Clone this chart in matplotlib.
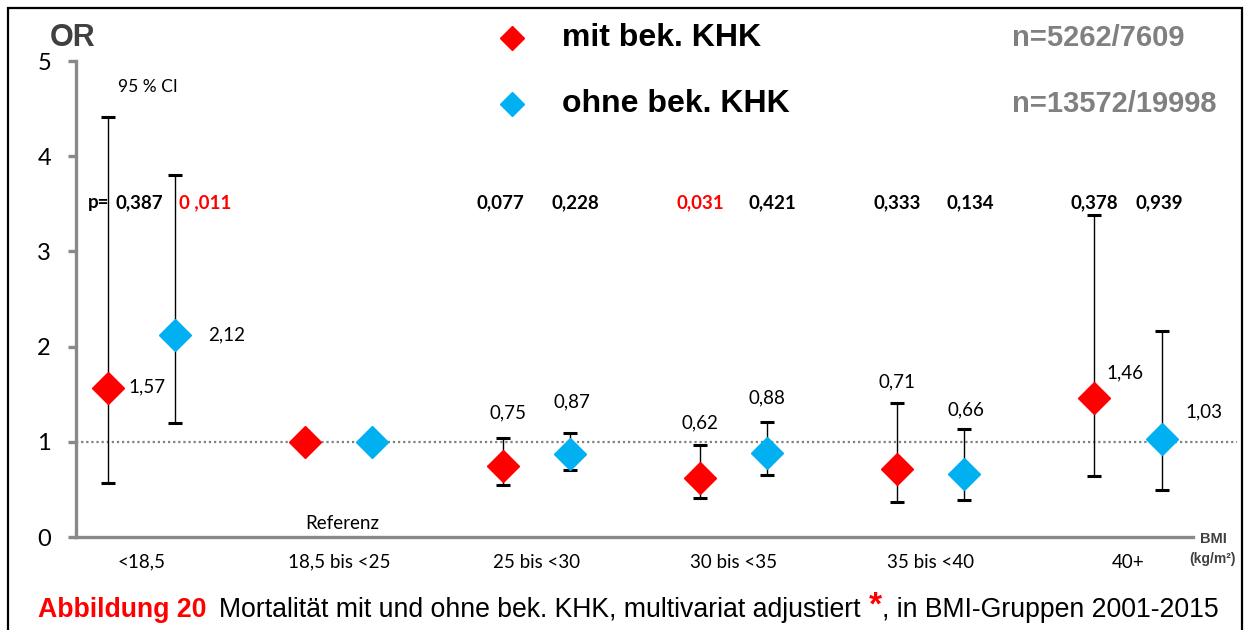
import matplotlib
matplotlib.use("Agg")
import matplotlib.pyplot as plt
from matplotlib.patches import Rectangle
import numpy as np

# BMI groups
groups = ["<18,5", "18,5 bis <25", "25 bis <30", "30 bis <35", "35 bis <40", "40+"]

# odds ratios + 95% CI, mit bekannter KHK
or_mit = [1.57, 1.00, 0.75, 0.62, 0.71, 1.46]
lo_mit = [0.57, np.nan, 0.55, 0.41, 0.37, 0.64]
hi_mit = [4.41, np.nan, 1.04, 0.97, 1.41, 3.38]

# ohne bekannte KHK
or_ohne = [2.12, 1.00, 0.87, 0.88, 0.66, 1.03]
lo_ohne = [1.20, np.nan, 0.70, 0.65, 0.39, 0.49]
hi_ohne = [3.80, np.nan, 1.09, 1.21, 1.13, 2.16]

# p-Werte (rot = signifikant)
p_mit = ["0,387", "", "0,077", "0,031", "0,333", "0,378"]
p_ohne = ["0 ,011", "", "0,228", "0,421", "0,134", "0,939"]
p_sig_mit = [False, False, False, True, False, False]
p_sig_ohne = [True, False, False, False, False, False]

n_mit = "n=5262/7609"
n_ohne = "n=13572/19998"

RED = "#FF0000"
BLUE = "#00B0F0"
GREY = "#898989"
CAL = "Lato"
ARIAL = "Liberation Sans"

W, H = 1248, 630
fig = plt.figure(figsize=(W / 100, H / 100), dpi=100)

def px(x, y):
    # pixel -> figure fraction
    return x / W, 1 - y / H

# axes: y=0 at pixel 537, y=5 at 61; left at 76, right end 1237
ax = fig.add_axes([76 / W, 1 - 537 / H, (1237 - 76) / W, (537 - 61) / H])
x0, step = 141.5, 197.3
ax.set_xlim((76 - x0) / step, (1237 - x0) / step)
ax.set_ylim(0, 5)

xs = np.arange(len(groups))
off = 0.17
x_mit = xs - off
x_ohne = xs + off

# reference line at OR=1
ax.axhline(1, color="#808080", lw=1.6, ls=(0, (1, 1.3)), zorder=1)

def ci(xp, val, lo, hi):
    val = np.array(val); lo = np.array(lo); hi = np.array(hi)
    ok = ~np.isnan(lo)
    ax.errorbar(np.asarray(xp)[ok], val[ok], yerr=[val[ok] - lo[ok], hi[ok] - val[ok]],
                fmt="none", ecolor="black", elinewidth=1.0, capsize=5, capthick=2.2, zorder=2)

ci(x_mit, or_mit, lo_mit, hi_mit)
ci(x_ohne, or_ohne, lo_ohne, hi_ohne)
ax.plot(x_mit, or_mit, ls="none", marker="D", ms=16, color=RED, mec=RED, zorder=3)
ax.plot(x_ohne, or_ohne, ls="none", marker="D", ms=16, color=BLUE, mec=BLUE, zorder=3)

# value labels (positions picked by hand)
lab_mit = [(-0.068, 1.58, "left"), None, (1.86, 1.30, "center"), (2.83, 1.20, "center"),
           (3.83, 1.63, "center"), (4.89, 1.72, "left")]
lab_ohne = [(0.34, 2.12, "left"), None, (2.18, 1.42, "center"), (3.17, 1.46, "center"),
            (4.18, 1.34, "center"), (5.29, 1.31, "left")]
for labs, vals in ((lab_mit, or_mit), (lab_ohne, or_ohne)):
    for lab, v in zip(labs, vals):
        if lab is None:
            continue
        ax.text(lab[0], lab[1], f"{v:.2f}".replace(".", ","), ha=lab[2], va="center",
                fontsize=13.5, family=CAL, color="black")

# p-values
p_y = 3.51
ax.text((88 - x0) / step, p_y, "p=", ha="left", va="center", fontsize=13.5, family=CAL, weight="bold")
p_x_mit = [-0.01, None, 1.82, 2.83, 3.83, 4.83]
p_x_ohne = [0.32, None, 2.20, 3.20, 4.20, 5.16]
for i in range(len(groups)):
    if p_mit[i]:
        ax.text(p_x_mit[i], p_y, p_mit[i], ha="center", va="center", fontsize=13.5, family=CAL,
                weight="bold", color=RED if p_sig_mit[i] else "black")
    if p_ohne[i]:
        ax.text(p_x_ohne[i], p_y, p_ohne[i], ha="center", va="center", fontsize=13.5, family=CAL,
                weight="bold", color=RED if p_sig_ohne[i] else "black")

ax.text(0.03, 4.73, "95 % CI", ha="center", va="center", fontsize=12.5, family=CAL)
ax.text(1.02, 0.14, "Referenz", ha="center", va="center", fontsize=13.5, family=CAL)

# axes styling
for s in ("top", "right"):
    ax.spines[s].set_visible(False)
for s in ("left", "bottom"):
    ax.spines[s].set_color(GREY)
    ax.spines[s].set_linewidth(2.4)
ax.spines["bottom"].set_bounds(ax.get_xlim()[0], (1193 - x0) / step)
ax.set_yticks(range(6))
ax.tick_params(axis="y", length=6, width=2.4, color=GREY, pad=12, labelsize=17)
ax.set_xticks(xs)
ax.set_xticklabels(groups)
ax.tick_params(axis="x", length=0, pad=12, labelsize=13.5)
for t in ax.get_xticklabels() + ax.get_yticklabels():
    t.set_family(CAL)

# outer text
fig.text(*px(50, 38), "OR", ha="left", va="center", fontsize=22, family=ARIAL, weight="bold", color="#404040")
fig.text(*px(1213, 539), "BMI", ha="center", va="center", fontsize=10.5, family=ARIAL, weight="bold", color="#404040")
fig.text(*px(1213, 559), "(kg/m²)", ha="center", va="center", fontsize=10, family=ARIAL, weight="bold", color="#404040")

# legend
for yy, col, lab, n in ((38, RED, "mit bek. KHK", n_mit), (104, BLUE, "ohne bek. KHK", n_ohne)):
    ax.plot([512 / W], [1 - yy / H], marker="D", ms=12.5, color=col, transform=fig.transFigure, clip_on=False)
    fig.text(*px(562, yy), lab, ha="left", va="center", fontsize=23, family=ARIAL, weight="bold")
    fig.text(*px(1012, yy), n, ha="left", va="center", fontsize=21, family=ARIAL, weight="bold", color="#808080")

# caption
cap_fs = 19.2
t1 = fig.text(*px(38, 610), "Abbildung 20", ha="left", va="center", fontsize=cap_fs, family=ARIAL,
              weight="bold", color=RED)
a2 = ax.annotate("Mortalität mit und ohne bek. KHK, multivariat adjustiert", xy=(1, 0), xycoords=t1,
                 xytext=(9, 0), textcoords="offset points", fontsize=cap_fs, family=ARIAL, va="bottom")
a3 = ax.annotate("*", xy=(1, 0), xycoords=a2, xytext=(6, 1), textcoords="offset points",
                 fontsize=24, family=ARIAL, weight="bold", color=RED, va="bottom")
ax.annotate(", in BMI-Gruppen 2001-2015", xy=(1, 0), xycoords=(a3, a2), xytext=(0, 0),
            textcoords="offset points", fontsize=cap_fs, family=ARIAL, va="bottom")

# outer frame
fig.add_artist(Rectangle((8 / W, -0.05), (1242 - 8) / W, 1.05 - 8 / H, transform=fig.transFigure,
                         fill=False, ec="black", lw=1.6))

fig.savefig("out.png", dpi=100)
